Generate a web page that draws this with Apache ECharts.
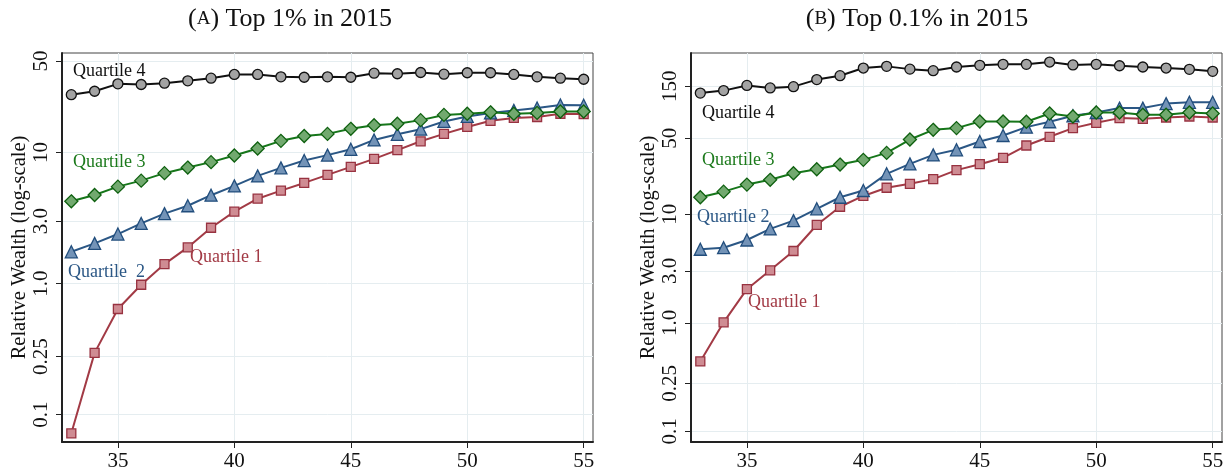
<!DOCTYPE html>
<html><head><meta charset="utf-8">
<script src="https://cdn.jsdelivr.net/npm/echarts@6/dist/echarts.min.js"></script>
<style>html,body{margin:0;padding:0;background:#fff}#c{width:1229px;height:476px}</style>
</head><body><div id="c"></div>
<script>
// ---- data ----
const ages = [33,34,35,36,37,38,39,40,41,42,43,44,45,46,47,48,49,50,51,52,53,54,55];
// Panel A: Top 1% in 2015
const aQ1 = [0.072,0.296,0.64,0.98,1.41,1.89,2.67,3.54,4.45,5.13,5.87,6.76,7.78,8.96,10.45,12.2,13.9,15.7,17.5,18.4,18.7,19.8,19.7];
const aQ2 = [1.75,2.03,2.39,2.88,3.42,3.93,4.73,5.57,6.64,7.65,8.7,9.57,10.6,12.5,13.8,15.1,17.3,18.9,20.1,21.0,21.9,23.1,23.0];
const aQ3 = [4.25,4.75,5.5,6.11,6.97,7.69,8.46,9.5,10.75,12.3,13.4,13.9,15.2,16.2,16.6,17.7,19.4,19.8,20.3,19.8,20.1,20.6,20.6];
const aQ4 = [27.7,29.4,33.5,33.1,33.9,35.3,37.0,39.5,39.5,37.9,37.6,37.9,37.6,40.4,40.0,40.9,39.7,40.7,40.7,39.5,37.9,37.0,36.3];
// Panel B: Top 0.1% in 2015
const bQ1 = [0.441,1.01,2.04,3.04,4.58,7.95,11.7,14.7,17.5,19.0,21.0,25.4,28.8,33.0,42.8,51.5,61.9,69.3,76.5,75.4,77.5,79.2,77.5];
const bQ2 = [4.75,4.91,5.78,7.31,8.71,11.2,14.3,16.5,23.5,29.0,35.1,39.1,46.6,52.9,63.2,70.8,80.4,86.2,94.6,94.6,104,107,107];
const bQ3 = [14.3,16.1,18.7,20.7,23.8,25.9,28.6,31.6,36.6,48.6,59.7,61.9,71.2,71.2,70.8,84.4,79.2,86.2,86.2,82.1,82.1,86.2,84.4];
const bQ4 = [130,137,153,145,149,173,188,221,229,216,209,226,234,239,239,251,236,239,232,226,221,215,206];
// ticks
const xTicks = [35,40,45,50,55];
const aYTickValues = [0.1,0.277,1,3,10,50];
const aYTickLabels = ['0.1','0.25','1.0','3.0','10','50'];
const bYTickValues = [0.1,0.277,1,3,10,50,150];
const bYTickLabels = ['0.1','0.25','1.0','3.0','10','50','150'];
const seriesNames = ['Quartile 1','Quartile 2','Quartile 3','Quartile 4'];
const titles = ['A','B'];
const titleTexts = [') Top 1% in 2015', ') Top 0.1% in 2015'];

// ---- styles ----
const SERIF = '"Liberation Serif","DejaVu Serif",serif';
const sty = [
  {line:'#a23a45', fill:'#cf8c93', border:'#983240', symbol:'rect', size:9},
  {line:'#2b5785', fill:'#7393b7', border:'#214d7c', symbol:'triangle', size:12},
  {line:'#16761a', fill:'#72a96f', border:'#0e600f', symbol:'diamond', size:13},
  {line:'#111111', fill:'#a3a3a3', border:'#111111', symbol:'circle', size:10}
];

function fmtFor(vals, labs) {
  return function (v) {
    let best = 0, bd = Infinity;
    vals.forEach((t, i) => { const d = Math.abs(Math.log10(t) - Math.log10(v)); if (d < bd) { bd = d; best = i; } });
    return labs[best];
  };
}

function xAxis(gi) {
  return {
    gridIndex: gi, type: 'value', min: 32.6, max: 55.4,
    axisLine: {show: true, onZero: false, lineStyle: {color: '#222', width: 2}},
    axisTick: {show: true, length: 6, customValues: xTicks, lineStyle: {color: '#222', width: 1}},
    axisLabel: {customValues: xTicks, fontSize: 21, fontFamily: SERIF, color: '#111', margin: 9},
    splitLine: {show: true, lineStyle: {color: '#e5edf0', width: 1}}
  };
}
function yAxis(gi, min, max, vals, labs) {
  return {
    gridIndex: gi, type: 'log', logBase: 10, min: min, max: max,
    axisLine: {show: true, onZero: false, lineStyle: {color: '#222', width: 2}},
    axisTick: {show: true, length: 6, customValues: vals, lineStyle: {color: '#222', width: 1}},
    axisLabel: {customValues: vals, rotate: 90, fontSize: 21, fontFamily: SERIF, color: '#111', margin: 10, formatter: fmtFor(vals, labs)},
    splitLine: {show: true, lineStyle: {color: '#e5edf0', width: 1}},
    name: 'Relative Wealth (log-scale)', nameLocation: 'middle', nameGap: 31, nameRotate: 90,
    nameTextStyle: {fontSize: 20.5, fontFamily: SERIF, color: '#111'}
  };
}

function mk(gi, qi, data) {
  const s = sty[qi];
  return {
    type: 'line', name: seriesNames[qi], xAxisIndex: gi, yAxisIndex: gi,
    data: ages.map((a, i) => [a, data[i]]),
    symbol: s.symbol, symbolSize: s.size, showAllSymbol: true,
    lineStyle: {color: s.line, width: 2},
    itemStyle: {color: s.fill, borderColor: s.border, borderWidth: 1.3},
    emphasis: {disabled: true}, z: 2 + qi, animation: false
  };
}

function lbl(x, y, text, color) {
  return {type: 'text', x: x, y: y, style: {text: text, fill: color, font: '18px ' + SERIF, verticalAlign: 'middle', align: 'left'}, z: 100};
}
function ttl(cx, i) {
  return {type: 'text', x: cx, y: 19, style: {
    text: '{p|(}{s|' + titles[i] + '}{p|' + titleTexts[i] + '}',
    align: 'center', verticalAlign: 'middle',
    rich: {p: {fontSize: 26, fontFamily: SERIF, fill: '#111', fontWeight: 'normal'}, s: {fontSize: 19, fontFamily: SERIF, fill: '#111'}}
  }, z: 100};
}

const chart = echarts.init(document.getElementById('c'), null, {renderer: 'canvas'});
chart.setOption({
  animation: false,
  backgroundColor: '#fff',
  grid: [
    {left: 62, top: 53, width: 531, height: 389, show: true, borderColor: '#444', borderWidth: 1, backgroundColor: 'transparent'},
    {left: 691, top: 53, width: 531, height: 389, show: true, borderColor: '#444', borderWidth: 1, backgroundColor: 'transparent'}
  ],
  xAxis: [xAxis(0), xAxis(1)],
  yAxis: [yAxis(0, 0.0618, 57.6, aYTickValues, aYTickLabels), yAxis(1, 0.080, 304, bYTickValues, bYTickLabels)],
  series: [
    mk(0, 0, aQ1), mk(0, 1, aQ2), mk(0, 2, aQ3), mk(0, 3, aQ4),
    mk(1, 0, bQ1), mk(1, 1, bQ2), mk(1, 2, bQ3), mk(1, 3, bQ4)
  ],
  graphic: [
    ttl(290, 0), ttl(917, 1),
    lbl(73, 71, 'Quartile 4', '#111'),
    lbl(73, 162, 'Quartile 3', '#1c7a1c'),
    lbl(68, 272, 'Quartile  2', '#2b5785'),
    lbl(190, 257, 'Quartile 1', '#a23a45'),
    lbl(702, 113, 'Quartile 4', '#111'),
    lbl(702, 160, 'Quartile 3', '#1c7a1c'),
    lbl(697, 217, 'Quartile 2', '#2b5785'),
    lbl(748, 302, 'Quartile 1', '#a23a45')
  ]
});
</script>
</body></html>
